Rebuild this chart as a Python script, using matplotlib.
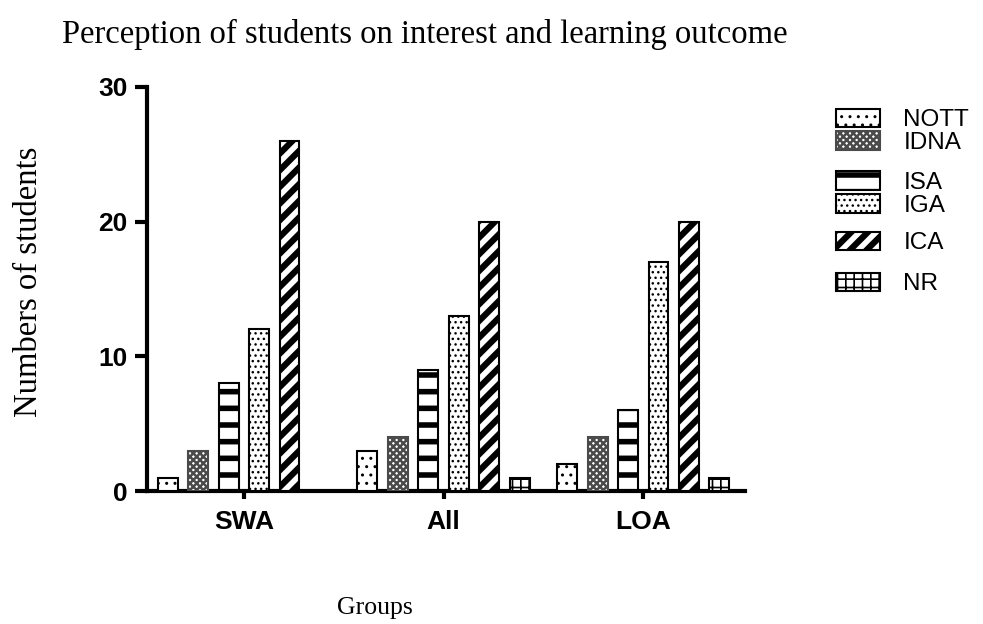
import matplotlib
matplotlib.use("Agg")
import matplotlib.pyplot as plt
import numpy as np
from matplotlib.patches import Patch

GROUPS = ["SWA", "All", "LOA"]
SERIES = ["NOTT", "IDNA", "ISA", "IGA", "ICA", "NR"]
VALUES = {
    "NOTT": [1, 3, 2],
    "IDNA": [3, 4, 4],
    "ISA": [8, 9, 6],
    "IGA": [12, 13, 17],
    "ICA": [26, 20, 20],
    "NR": [0, 1, 1],
}
YTICKS = [0, 10, 20, 30]

# hatch, edge colour, hatch linewidth
STYLES = {
    "NOTT": ("..", "black", 1.0),
    "IDNA": ("xxxxx", "#4a4a4a", 1.8),
    "ISA": ("-", "black", 4.0),
    "IGA": ("...", "black", 1.0),
    "ICA": ("//", "black", 4.5),
    "NR": ("++", "black", 1.2),
}

sans = ["Liberation Sans", "DejaVu Sans"]
serif = ["Liberation Serif", "DejaVu Serif"]

fig = plt.figure(figsize=(9.83, 6.24), dpi=100)
ax = fig.add_axes([0.1495, 0.2131, 0.6085, 0.6475])

x = np.arange(len(GROUPS))
n = len(SERIES)
step = 0.1525
bar_w = 0.10
offsets = (np.arange(n) - (n - 1) / 2) * step


def set_hlw(p, lw):
    if hasattr(p, "set_hatch_linewidth"):
        p.set_hatch_linewidth(lw)


handles = []
for i, name in enumerate(SERIES):
    hatch, ec, hlw = STYLES[name]
    with plt.rc_context({"hatch.linewidth": hlw}):
        bars = ax.bar(x + offsets[i], VALUES[name], bar_w, color="white",
                      edgecolor=ec, hatch=hatch, linewidth=1.5, zorder=3)
    for b in bars:
        set_hlw(b, hlw)
    handles.append(Patch(facecolor="white", edgecolor=ec, hatch=hatch,
                         linewidth=1.5, label=name))

ax.set_xlim(-0.485, 2.51)
ax.set_ylim(0, 30)
ax.set_yticks(YTICKS)
ax.set_xticks(x)
ax.set_xticklabels(GROUPS)
for lab in ax.get_xticklabels() + ax.get_yticklabels():
    lab.set_family(sans)
    lab.set_fontweight("bold")
    lab.set_fontsize(19)

for s in ["top", "right"]:
    ax.spines[s].set_visible(False)
for s in ["left", "bottom"]:
    ax.spines[s].set_linewidth(3)
ax.tick_params(axis="y", direction="out", length=9, width=3, pad=5)
ax.tick_params(axis="x", direction="out", length=6, width=3, pad=8)

fig.text(0.063, 0.944, "Perception of students on interest and learning outcome",
         family=serif, fontsize=23.5, ha="left", va="center")
fig.text(0.029, 0.548, "Numbers of students", family=serif, fontsize=23.5,
         rotation=90, ha="center", va="center")
fig.text(0.3815, 0.026, "Groups", family=serif, fontsize=18.5,
         ha="center", va="center")

# legend drawn in blocks, as in the original the entries are unevenly spaced
BLOCKS = [(0, 2, 0.7893), (2, 4, 0.689), (4, 5, 0.6106), (5, 6, 0.5449)]
for a, b, yc in BLOCKS:
    leg = fig.legend(handles=handles[a:b], loc="center left",
                     bbox_to_anchor=(0.8505, yc), frameon=False,
                     prop={"family": sans, "size": 17.5},
                     handlelength=1.82, handleheight=0.82, labelspacing=0.0,
                     handletextpad=0.95, borderaxespad=0, borderpad=0)
    for p, h in zip(leg.get_patches(), handles[a:b]):
        set_hlw(p, STYLES[h.get_label()][2])

fig.savefig("out.png", dpi=100)
